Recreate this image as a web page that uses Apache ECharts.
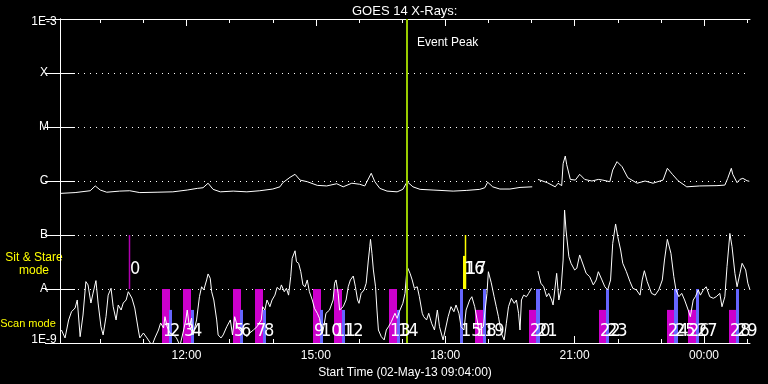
<!DOCTYPE html>
<html><head><meta charset="utf-8">
<script src="https://cdn.jsdelivr.net/npm/echarts@6/dist/echarts.min.js"></script>
<style>html,body{margin:0;padding:0;background:#000;}#c{width:768px;height:384px;}</style>
</head><body><div id="c"></div>
<script>
// ---------------- data ----------------
const chartTitle = 'GOES 14 X-Rays:';
const startLabel = 'Start Time (02-May-13 09:04:00)';
const startMinuteOfDay = 544;            // 09:04
const spanMinutes = 960;                 // 16 hours shown
const majorTicks = [176, 356, 536, 716, 896];           // 12:00 15:00 18:00 21:00 00:00
const hourTicks = [56, 116, 176, 236, 296, 356, 416, 476, 536, 596, 656, 716, 776, 836, 896, 956];
const levelNames = {'-3': '1E-3', '-4': 'X', '-5': 'M', '-6': 'C', '-7': 'B', '-8': 'A', '-9': '1E-9'};
const eventPeakMinute = 483;
const eventLabel = 'Event Peak';
const sitStareText = 'Sit & Stare\nmode';
const scanText = 'Scan mode';

// long channel (1-8 A), minutes after start / flux W m^-2
const longTime = [1,21,42,49,56,65,83,97,111,135,157,177,191,199,206,213,223,241,260,278,296,306,310,320,327,334,344,358,371,385,394,406,417,424,433,438,445,455,469,477,483,491,501,519,547,566,584,591,595,602,612,626,640,657,661,665,678,689,693,698,700,703,705,710,717,723,730,740,749,755,765,769,775,782,790,803,814,825,839,845,852,860,872,890,914,925,929,934,936,942,946,950,956,959];
const longFlux = [5.9e-7,6.1e-7,6.6e-7,8.1e-7,6.8e-7,6.2e-7,6.5e-7,6.6e-7,6.1e-7,6.2e-7,6.3e-7,6.8e-7,7.3e-7,7.5e-7,9.1e-7,7.0e-7,6.3e-7,6.5e-7,6.3e-7,6.6e-7,7.1e-7,7.8e-7,9.3e-7,1.17e-6,1.33e-6,1.04e-6,9.7e-7,8.3e-7,8.1e-7,8.9e-7,7.8e-7,9.1e-7,8.7e-7,8.1e-7,1.39e-6,9.7e-7,7.3e-7,6.5e-7,6.3e-7,7.0e-7,9.7e-7,7.8e-7,7.0e-7,6.8e-7,6.5e-7,6.7e-7,7.0e-7,7.5e-7,9.5e-7,7.8e-7,7.1e-7,7.1e-7,7.6e-7,7.8e-7,null,1.07e-6,9.3e-7,7.8e-7,9.1e-7,8.2e-7,2.1e-6,2.9e-6,2.0e-6,1.07e-6,1.04e-6,1.33e-6,1.07e-6,1.0e-6,1.07e-6,1.04e-6,9.7e-7,1.6e-6,2.28e-6,1.84e-6,1.15e-6,9.1e-7,1.0e-6,9.1e-7,1.04e-6,1.72e-6,1.33e-6,1.01e-6,7.8e-7,8.1e-7,8.2e-7,8.4e-7,1.12e-6,1.72e-6,1.33e-6,9.3e-7,1.07e-6,1.12e-6,1.01e-6,9.9e-7];

// short channel (0.5-4 A)
const shortTime = [2,7,12,16,21,24,28,32,36,39,43,46,50,53,57,60,64,67,71,74,78,81,85,88,92,95,100,104,109,111,116,121,128,132,137,140,144,146,149,153,158,162,167,172,175,177,180,183,185,190,194,197,200,204,206,209,211,214,218,220,224,227,232,237,240,243,247,250,255,260,264,269,274,280,282,285,288,292,295,299,302,306,308,312,315,318,321,323,327,329,332,335,338,341,344,347,351,354,358,361,365,367,370,375,380,382,384,387,389,394,398,401,404,408,411,414,416,419,423,426,429,431,432,434,436,439,441,443,447,451,454,457,461,466,469,473,477,480,483,487,490,493,497,500,504,506,510,513,517,521,525,528,533,536,540,544,548,551,555,558,562,565,570,573,577,582,584,589,594,596,600,604,607,610,614,618,621,624,628,632,635,638,640,642,645,649,652,656,660,665,669,673,677,680,684,686,691,694,697,700,702,704,708,711,716,719,723,728,732,737,742,746,749,754,758,762,766,769,773,776,780,783,788,793,797,802,807,810,813,817,823,828,833,838,841,845,850,854,857,861,865,869,874,877,881,884,888,891,895,899,904,909,913,918,921,925,928,932,935,939,942,946,949,954,957,960];
const shortFlux = [1.74e-9,1.24e-9,2.67e-9,3.8e-9,4.45e-9,6.26e-9,1.31e-9,3.3e-9,1.37e-8,1.19e-8,5.5e-9,8.4e-9,1.43e-8,5.5e-9,2.0e-9,1.41e-9,3.07e-9,7.7e-9,1.03e-8,4.7e-9,2.67e-9,5.06e-9,4.08e-9,5.5e-9,6.26e-9,8.9e-9,6.8e-9,4.45e-9,1.74e-9,1.24e-9,1.53e-9,1.24e-9,9e-10,1.24e-9,1.74e-9,2.35e-9,1.9e-9,3.07e-9,2.0e-9,1.53e-9,1.41e-9,1.24e-9,9e-10,1.74e-9,2.67e-9,4.08e-9,2.0e-9,2.9e-9,1.41e-9,2.67e-9,7.2e-9,1.1e-8,9.6e-9,1.47e-8,1.9e-8,1.58e-8,8.9e-9,6.26e-9,2.67e-9,1.41e-9,1.24e-9,1.41e-9,2.0e-9,2.67e-9,1.41e-9,3.07e-9,2.0e-9,1.74e-9,1.53e-9,1.31e-9,1.53e-9,1.74e-9,2.0e-9,2.67e-9,4.7e-9,4.08e-9,6.26e-9,4.7e-9,6.26e-9,7.7e-9,1.07e-8,9.6e-9,1.19e-8,8.9e-9,1.03e-8,7.7e-9,1.69e-8,3.71e-8,5.1e-8,3.2e-8,2.99e-8,2.09e-8,1.19e-8,1.1e-8,1.47e-8,8.9e-9,6.26e-9,4.39e-9,3.55e-9,2.87e-9,1.51e-9,2.0e-9,3.55e-9,4.08e-9,6.26e-9,1.28e-8,1.47e-8,8.3e-9,4.08e-9,4.7e-9,6.26e-9,1.1e-8,1.47e-8,1.74e-8,1.1e-8,6.26e-9,5.43e-9,8.3e-9,9.6e-9,1.28e-8,3.44e-8,6.07e-8,8.3e-8,4.58e-8,2.25e-8,1.1e-8,4.08e-9,1.74e-9,1.31e-9,1.14e-9,1.74e-9,2.0e-9,2.48e-9,3.55e-9,2.87e-9,4.08e-9,5.43e-9,8.3e-9,2.59e-8,1.95e-8,1.47e-8,1.03e-8,1.1e-8,7.2e-9,3.55e-9,3.07e-9,2.67e-9,3.55e-9,2.32e-9,1.74e-9,4.08e-9,2.0e-9,1.14e-9,1.74e-9,3.07e-9,4.7e-9,3.8e-9,5.06e-9,3.55e-9,2.0e-9,1.74e-9,4.08e-9,6.26e-9,7.2e-9,4.7e-9,2.0e-9,1.74e-9,2.0e-9,8.3e-9,2.09e-8,1.3e-8,7.2e-9,4.7e-9,3.07e-9,1.51e-9,1.14e-9,2.32e-9,4.7e-9,6.73e-9,5.43e-9,6.26e-9,3.55e-9,1.74e-9,6.26e-9,7.7e-9,7.2e-9,8.3e-9,1.03e-8,null,2.15e-8,1.28e-8,1.1e-8,7.2e-9,8.3e-9,6.26e-9,5.06e-9,1.95e-8,6.26e-9,9.6e-9,3.44e-8,2.9e-7,1.24e-7,3.97e-8,2.99e-8,2.25e-8,2.42e-8,4.27e-8,2.78e-8,1.95e-8,1.69e-8,1.19e-8,1.47e-8,2.09e-8,1.47e-8,1.1e-8,9.6e-9,1.47e-8,7.0e-8,1.6e-7,9.3e-8,5.28e-8,2.99e-8,2.09e-8,1.37e-8,1.03e-8,9.6e-9,7.7e-9,1.47e-8,2.18e-8,1.37e-8,8.3e-9,7.7e-9,9.6e-9,1.47e-8,3.44e-8,8.3e-8,4.58e-8,1.69e-8,9.6e-9,7.2e-9,8.3e-9,6.26e-9,4.08e-9,3.07e-9,6.26e-9,7.2e-9,9.6e-9,7.7e-9,9.6e-9,1.1e-8,7.2e-9,6.73e-9,7.2e-9,8.3e-9,4.7e-9,7.2e-9,2.59e-8,1.07e-7,6.07e-8,1.95e-8,1.1e-8,1.95e-8,2.99e-8,2.25e-8,1.28e-8,9.6e-9];

// observations (numbered 0..29): start/end minute, kind, lower and upper level
const obsStart = [96,142,152,171,182,241,250,271,282,352,362,381,392,458,469,557,561,564,577,589,652,662,750,760,845,854,874,885,931,941];
const obsEnd   = [96,153,156,182,186,252,255,282,287,363,366,392,397,469,473,561,565,564,589,593,662,668,760,764,854,860,885,889,941,945];
const obsKind  = ['p','m','b','m','b','m','b','m','b','m','b','m','b','m','b','b','y','y','m','b','m','b','m','b','m','b','m','b','m','b'];
const obsLow   = [1e-8,1e-9,1e-9,1e-9,1e-9,1e-9,1e-9,1e-9,1e-9,1e-9,1e-9,1e-9,1e-9,1e-9,1e-9,1e-9,1e-8,1e-8,1e-9,1e-9,1e-9,1e-9,1e-9,1e-9,1e-9,1e-9,1e-9,1e-9,1e-9,1e-9];
const obsHigh  = [1e-7,1e-8,4.1e-9,1e-8,4.1e-9,1e-8,4.1e-9,1e-8,4.1e-9,1e-8,4.1e-9,1e-8,4.1e-9,1e-8,4.1e-9,1e-8,4.1e-8,1e-7,4.1e-9,1e-8,4.1e-9,1e-8,4.1e-9,1e-8,4.1e-9,1e-8,4.1e-9,1e-8,4.1e-9,1e-8];

// ---------------- chart ----------------
const FONT = "'Liberation Sans', 'DejaVu Sans', sans-serif";
const NUMFONT = "'Liberation Sans Narrow', 'DejaVu Sans Condensed', 'Liberation Sans', sans-serif";
const kindColor = {m: '#cc00cc', b: '#6666ff', y: '#ffff00', p: '#b000b0'};

function timeLabel(v) {
  const t = (startMinuteOfDay + v) % 1440;
  const h = Math.floor(t / 60), m = t % 60;
  return String(h).padStart(2, '0') + ':' + String(m).padStart(2, '0');
}

const longData = longTime.map((t, i) => [t, longFlux[i]]);
const shortData = shortTime.map((t, i) => [t, shortFlux[i]]);
const obsData = obsStart.map((s, i) => [s, obsEnd[i], obsLow[i], obsHigh[i], i]);

const baseX = {type: 'value', min: 0, max: spanMinutes, gridIndex: 0, splitLine: {show: false}};

const chart = echarts.init(document.getElementById('c'), null, {renderer: 'canvas'});
chart.setOption({
  animation: false,
  backgroundColor: '#000',
  title: {
    text: chartTitle, left: 347, top: 0,
    textStyle: {color: '#fff', fontSize: 13, fontWeight: 'normal', fontFamily: FONT}
  },
  grid: {left: 60, right: 18, top: 19, bottom: 41, containLabel: false, outerBoundsMode: 'none'},
  xAxis: [
    Object.assign({}, baseX, {
      position: 'bottom',
      axisLine: {show: true, lineStyle: {color: '#fff', width: 1}},
      axisTick: {show: true, inside: true, length: 7, customValues: majorTicks, lineStyle: {color: '#fff'}},
      axisLabel: {show: true, customValues: majorTicks, color: '#fff', fontSize: 12, fontFamily: FONT, margin: 7, formatter: timeLabel},
      name: startLabel, nameLocation: 'middle', nameGap: 20,
      nameTextStyle: {color: '#fff', fontSize: 12, fontFamily: FONT}
    }),
    Object.assign({}, baseX, {
      position: 'bottom',
      axisLine: {show: false},
      axisTick: {show: true, inside: true, length: 4, customValues: hourTicks, lineStyle: {color: '#fff'}},
      axisLabel: {show: false}
    }),
    Object.assign({}, baseX, {
      position: 'top',
      axisLine: {show: true, lineStyle: {color: '#fff', width: 1}},
      axisTick: {show: true, inside: true, length: 7, customValues: majorTicks, lineStyle: {color: '#fff'}},
      axisLabel: {show: false}
    }),
    Object.assign({}, baseX, {
      position: 'top',
      axisLine: {show: false},
      axisTick: {show: true, inside: true, length: 4, customValues: hourTicks, lineStyle: {color: '#fff'}},
      axisLabel: {show: false}
    })
  ],
  yAxis: [
    {
      type: 'log', logBase: 10, min: 1e-9, max: 1e-3, position: 'left',
      axisLine: {show: true, lineStyle: {color: '#fff', width: 1}},
      axisTick: {show: true, inside: true, length: 15, lineStyle: {color: '#fff'}},
      minorTick: {show: false},
      splitLine: {show: true, lineStyle: {color: '#fff', width: 1, type: [1, 5]}},
      axisLabel: {
        color: '#fff', fontSize: 12, fontFamily: FONT, align: 'center', margin: 16,
        formatter: function (v) {
          const e = Math.round(Math.log10(v));
          const s = levelNames[String(e)] || '';
          if (e === -3) return '{t|' + s + '}';
          if (e === -9) return '{b|' + s + '}';
          return s;
        },
        rich: {
          t: {color: '#fff', fontSize: 12, fontFamily: FONT, lineHeight: 18, verticalAlign: 'bottom'},
          b: {color: '#fff', fontSize: 12, fontFamily: FONT, padding: [0, 0, 7, 0]}
        }
      }
    },
    {
      type: 'log', logBase: 10, min: 1e-9, max: 1e-3, position: 'right',
      axisLine: {show: true, lineStyle: {color: '#fff', width: 1}},
      axisTick: {show: true, inside: true, length: 15, lineStyle: {color: '#fff'}},
      splitLine: {show: false},
      axisLabel: {show: false}
    }
  ],
  graphic: [
    {type: 'text', x: 34, y: 264, style: {text: sitStareText, fill: '#ffff00', font: '12px ' + FONT, textAlign: 'center', textVerticalAlign: 'middle', lineHeight: 13}},
    {type: 'text', x: 28, y: 324, style: {text: scanText, fill: '#ffff00', font: '11px ' + FONT, textAlign: 'center', textVerticalAlign: 'middle'}},
    {type: 'text', x: 417, y: 43, style: {text: eventLabel, fill: '#ffffff', font: '12px ' + FONT, textAlign: 'left', textVerticalAlign: 'middle'}}
  ],
  series: [
    {
      type: 'custom', name: 'observations', xAxisIndex: 0, yAxisIndex: 0, z: 2,
      data: obsData,
      encode: {x: [0, 1], y: [2, 3]},
      renderItem: function (params, api) {
        const i = api.value(4);
        const color = kindColor[obsKind[i]];
        const a = api.coord([api.value(0), api.value(3)]);
        const b = api.coord([api.value(1), api.value(2)]);
        if (api.value(1) === api.value(0)) {
          const x = Math.round(a[0]) + 0.5;
          return {type: 'line', shape: {x1: x, y1: a[1], x2: x, y2: b[1]}, style: {stroke: color, lineWidth: 1.5}};
        }
        const x0 = Math.round(a[0]);
        const w = Math.max(2, Math.round(b[0]) - x0);
        return {type: 'rect', shape: {x: x0, y: a[1], width: w, height: b[1] - a[1]}, style: {fill: color}};
      }
    },
    {
      type: 'line', name: 'long', xAxisIndex: 0, yAxisIndex: 0, z: 4,
      data: longData, showSymbol: false, symbol: 'none', connectNulls: false,
      lineStyle: {color: '#fff', width: 1}
    },
    {
      type: 'line', name: 'short', xAxisIndex: 0, yAxisIndex: 0, z: 4,
      data: shortData, showSymbol: false, symbol: 'none', connectNulls: false,
      lineStyle: {color: '#fff', width: 1},
      markLine: {
        silent: true, symbol: 'none', animation: false,
        label: {show: false},
        lineStyle: {color: '#99cc00', width: 2, type: 'solid'},
        data: [{xAxis: eventPeakMinute}]
      }
    },
    {
      type: 'custom', name: 'numbers', xAxisIndex: 0, yAxisIndex: 0, z: 5,
      data: obsData,
      encode: {x: 0, y: 2},
      renderItem: function (params, api) {
        const i = api.value(4);
        const high = api.value(2) > 1e-9;
        const p = api.coord([api.value(0), high ? 1.6e-8 : 1.1e-9]);
        return {type: 'text', x: Math.round(p[0]) + 1, y: p[1],
          style: {text: String(i), fill: '#fff', font: '18px ' + NUMFONT, textAlign: 'left', textVerticalAlign: 'bottom'}};
      }
    }
  ]
});
</script>
</body></html>
